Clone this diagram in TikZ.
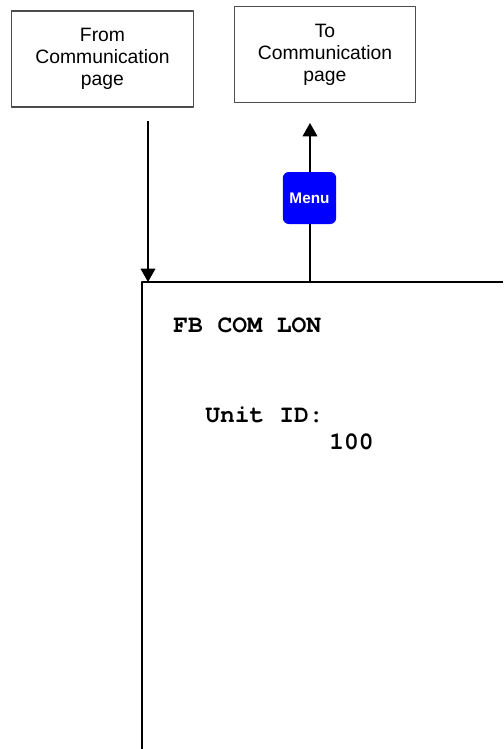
\documentclass[tikz,border=0pt]{standalone}
\usepackage{fontspec}
\setmainfont{Liberation Sans}
\newfontfamily\screenfont{texgyrecursor}[Extension=.otf, UprightFont=*-regular, BoldFont=*-bold]
\usetikzlibrary{arrows.meta}

\begin{document}
\begin{tikzpicture}[line join=round, >={Triangle[width=11pt,length=10pt]}, x=0.75pt, y=-0.75pt,
	pagebox/.style={draw=black!70, line width=0.8pt, minimum width=136pt, minimum height=72pt, align=center, inner sep=0pt, font=\fontsize{14.5}{16.5}\selectfont},
	menubtn/.style={fill=blue, rounded corners=4.5pt, minimum width=40pt, minimum height=39pt, inner sep=0pt, text=white, font=\fontsize{11.5}{13}\selectfont\bfseries},
	lcd/.style={anchor=base west, inner sep=0pt, font=\screenfont\bfseries\fontsize{18.5}{20}\selectfont}]
			\useasboundingbox (0,0) rectangle (503,749);
			\def\sx{142}
			\def\sy{282}
			
			% page boxes
			\node[pagebox] (from) at (102.5,59) {From\\Communication\\page};
			\node[pagebox] (to) at (325,54.5) {To\\Communication\\page};
			
			% arrow ends
			\coordinate (fromtail) at (148,121);
			\coordinate (fromtip) at (148,\sy);
			\coordinate (menutail) at (310,\sy);
			\coordinate (totip) at (310,123);
			
			\draw[->, line width=1.1pt] (fromtail) -- (fromtip);
			\draw[->, line width=1.1pt] (menutail) -- (totip);
			\node[menubtn] (menu) at (309.5,198) {Menu};
			
			% display
			\draw[line width=1.5pt] (\sx,749) -- (\sx,\sy) -- (503,\sy);
			\node[lcd] (title) at (173,332) {FB COM LON};
			\node[lcd] (unitid) at (205,422) {Unit ID:};
			\node[lcd] (unitval) at (329,449) {100};
			
		\end{tikzpicture}
\end{document}
